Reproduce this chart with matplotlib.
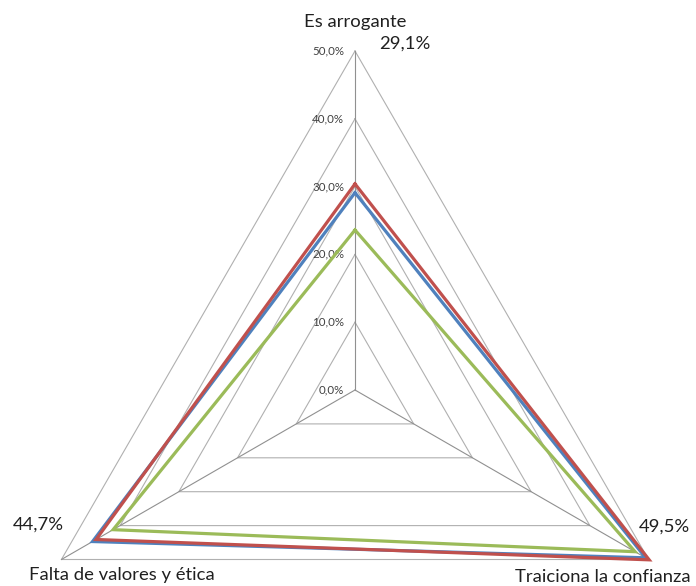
import numpy as np
import matplotlib
matplotlib.use("Agg")
import matplotlib.pyplot as plt

plt.rcParams['font.family'] = ['Lato', 'DejaVu Sans']

categories = ["Es arrogante", "Traiciona la confianza", "Falta de valores y ética"]
serie_azul = [29.1, 49.5, 44.7]
serie_roja = [30.4, 50.1, 44.1]
serie_verde = [23.6, 47.7, 41.2]
ticks = [0, 10, 20, 30, 40, 50]
tick_labels = ["0,0%", "10,0%", "20,0%", "30,0%", "40,0%", "50,0%"]

W, H = 696, 586
cx, cy, R = 355, 390, 339  # centre and outer radius, pixels

fig = plt.figure(figsize=(W / 100, H / 100), dpi=100)
ax = fig.add_axes([(cx - R) / W, (H - cy - R) / H, 2 * R / W, 2 * R / H], projection='polar')
ax.set_theta_zero_location('N')
ax.set_theta_direction(-1)
ax.set_ylim(0, 50)
ax.grid(False)
ax.set_xticks([])
ax.set_yticks([])
ax.spines['polar'].set_visible(False)
ax.patch.set_alpha(0)

theta = np.linspace(0, 2 * np.pi, len(categories), endpoint=False)
closed = np.append(theta, theta[0])

# triangular rings
for r in ticks[1:]:
    ax.plot(closed, [r] * len(closed), color='#b0b0b0', lw=0.8, clip_on=False, zorder=1)
# spokes
for t in theta:
    ax.plot([t, t], [0, ticks[-1]], color='#909090', lw=0.8, clip_on=False, zorder=1)

for r, lab in zip(ticks, tick_labels):
    ax.annotate(lab, xy=(0, r), xytext=(-11, 0), textcoords='offset pixels',
                ha='right', va='center', fontsize=8.3, color='#404040')

for vals, col in [(serie_azul, '#4f81bd'), (serie_roja, '#c0504d'), (serie_verde, '#9bbb59')]:
    v = np.append(vals, vals[0])
    ax.plot(closed, v, color=col, lw=2.3, clip_on=False, zorder=3, solid_joinstyle='miter')

# category names
fs_cat = 13.3
fig.text(355 / W, 1 - 22 / H, categories[0], ha='center', va='center', fontsize=fs_cat, color='#202020')
fig.text(603 / W, 1 - 577 / H, categories[1], ha='center', va='center', fontsize=fs_cat, color='#202020')
fig.text(122 / W, 1 - 575 / H, categories[2], ha='center', va='center', fontsize=fs_cat, color='#202020')

# value labels
etiquetas = [f"{v:.1f}%".replace('.', ',') for v in serie_azul]
fs_val = 13.3
fig.text(405 / W, 1 - 44 / H, etiquetas[0], ha='center', va='center', fontsize=fs_val, color='#202020')
fig.text(664 / W, 1 - 527 / H, etiquetas[1], ha='center', va='center', fontsize=fs_val, color='#202020')
fig.text(38 / W, 1 - 525 / H, etiquetas[2], ha='center', va='center', fontsize=fs_val, color='#202020')

fig.savefig("out.png", dpi=100)
